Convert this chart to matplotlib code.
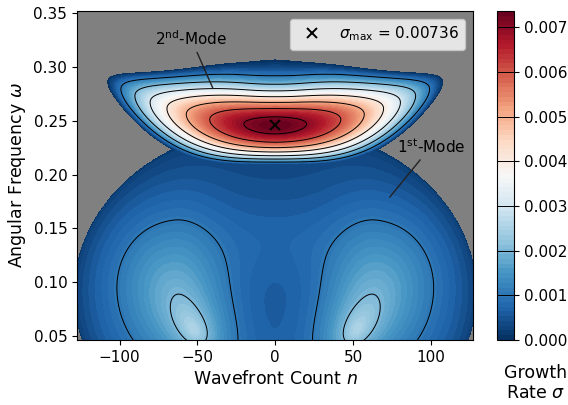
import numpy as np
import matplotlib
matplotlib.use("Agg")
import matplotlib.pyplot as plt

# ---------------- axes / colour scale ----------------
n_limits = [-127.3, 127.0]
omega_limits = [0.0463, 0.352]
x_ticks = [-100, -50, 0, 50, 100]
y_ticks = [0.05, 0.10, 0.15, 0.20, 0.25, 0.30, 0.35]
cbar_ticks = [0.000, 0.001, 0.002, 0.003, 0.004, 0.005, 0.006, 0.007]
line_levels = [0.001, 0.002, 0.003, 0.004, 0.005, 0.006, 0.007]
sigma_max = 0.00736
sigma_max_point = [0.0, 0.246]          # (n, omega) of the maximum

# ---------------- 2nd mode (upper region) ----------------
m2_half_width = 107.5      # n extent of the mode
m2_n_power = 1.8
m2_ridge_rise = 0.040      # ridge omega rise towards the tips
m2_ridge_power = 2.2
m2_top_depth = 0.0605      # distance from ridge to upper edge at n = 0
m2_top_scale = 0.035
m2_top_widen = [0.22, 0.30]    # gain, n-scale (fraction of half width)
m2_bot_depth = 0.037       # distance from ridge to lower edge at n = 0
m2_bot_widen = [0.45, 0.55]

# ---------------- 1st mode (lower region) ----------------
m1_center = [0.0, 0.09]
m1_axes = [129.0, 0.155]
m1_edge_power = 0.3
m1_base = 0.0004
# broad lobes: widths = (out, in, up, down)
broad_n = [-66.0, 66.0]
broad_omega = [0.095, 0.095]
broad_amp = [0.0011, 0.0011]
broad_widths = [52.0, 36.0, 0.08, 0.09]
# sharp lobes near the bottom
sharp_n = [-52.0, 52.0]
sharp_omega = [0.055, 0.055]
sharp_amp = [0.0016, 0.0016]
sharp_widths = [14.0, 18.0, 0.032, 0.03]
sharp_tilt = 250.0
bump_center = [0.0, 0.14]
bump_amp = 0.00025
bump_width = [40.0, 0.04]

# ---------------- annotations ----------------
label_2nd = ["2$^{\\mathrm{nd}}$-Mode", -54.0, 0.326, -40.0, 0.280]
label_1st = ["1$^{\\mathrm{st}}$-Mode", 100.0, 0.226, 73.5, 0.179]

# ---------------- build the field ----------------
n = np.linspace(n_limits[0] - 2, n_limits[1] + 2, 900)
w = np.linspace(omega_limits[0] - 0.003, omega_limits[1] + 0.003, 900)
N, W = np.meshgrid(n, w)

u = np.abs(N - sigma_max_point[0]) / m2_half_width
ridge = sigma_max_point[1] + m2_ridge_rise * u ** m2_ridge_power
d = W - ridge
taper = np.clip(1 - u ** 4, 0, None)
top_f = 1 + m2_top_widen[0] * (1 - np.exp(-(u / m2_top_widen[1]) ** 2)) * taper
bot_f = 1 + m2_bot_widen[0] * (1 - np.exp(-(u / m2_bot_widen[1]) ** 2)) * taper
dt = d / top_f
db = d / bot_f
top = (1 - np.exp(-(dt / m2_top_scale) ** 2)) / (1 - np.exp(-(m2_top_depth / m2_top_scale) ** 2))
bot = (db / m2_bot_depth) ** 2
sig2 = sigma_max * (1 - u ** m2_n_power - np.where(d > 0, top, bot))

r2 = ((N - m1_center[0]) / m1_axes[0]) ** 2 + ((W - m1_center[1]) / m1_axes[1]) ** 2
e = 1 - r2 ** 2
env = np.sign(e) * np.abs(e) ** m1_edge_power
inner = m1_base + bump_amp * np.exp(-((N - bump_center[0]) / bump_width[0]) ** 2
                                    - ((W - bump_center[1]) / bump_width[1]) ** 2)


def side_scaled(dn, dw, widths):
    wn = np.where(dn > 0, widths[0], widths[1])
    ww = np.where(dw > 0, widths[2], widths[3])
    return (dn / wn) ** 2 + (dw / ww) ** 2


for nc, wc, amp in zip(broad_n, broad_omega, broad_amp):
    side = np.sign(nc)
    dn = (N - nc) * side
    dw = W - wc
    inner = inner + amp * np.exp(-side_scaled(dn, dw, broad_widths))

for nc, wc, amp in zip(sharp_n, sharp_omega, sharp_amp):
    side = np.sign(nc)
    dw = W - wc
    dn = (N - (nc + side * sharp_tilt * dw)) * side
    s = np.sqrt(side_scaled(dn, dw, sharp_widths) + 0.02)
    inner = inner + amp * np.exp(-s)

sig1 = env * inner
sigma = np.maximum(sig1, sig2)

# ---------------- plot ----------------
fig = plt.figure(figsize=(5.68, 4.05), dpi=100)
ax = fig.add_axes([0.1356, 0.1605, 0.6972, 0.8123])
ax.set_facecolor("#808080")

levels = np.linspace(0, sigma_max * 1.0001, 70)
cf = ax.contourf(N, W, sigma, levels=levels, cmap="RdBu_r", vmin=0, vmax=sigma_max)
cs = ax.contour(N, W, sigma, levels=line_levels, colors="k", linewidths=0.7)

ax.plot([sigma_max_point[0]], [sigma_max_point[1]], "kx", ms=7, mew=1.4,
        label="$\\sigma_{\\mathrm{max}}$ = %.5f" % sigma_max)
leg = ax.legend(loc="upper right", fontsize=11)

for lab in (label_2nd, label_1st):
    ax.annotate(lab[0], xy=(lab[3], lab[4]), xytext=(lab[1], lab[2]),
                ha="center", va="center", fontsize=11,
                arrowprops=dict(arrowstyle="-", color="#222222", lw=1.0,
                                shrinkA=1, shrinkB=0))

ax.set_xticks(x_ticks)
ax.set_yticks(y_ticks)
ax.set_xlim(n_limits)
ax.set_ylim(omega_limits)
ax.set_yticklabels(["%.2f" % v for v in y_ticks])
ax.tick_params(labelsize=11)
ax.set_xlabel("Wavefront Count $n$", fontsize=12.5)
ax.set_ylabel("Angular Frequency $\\omega$", fontsize=12.5)

cax = fig.add_axes([0.875, 0.1605, 0.030, 0.8123])
cb = fig.colorbar(cf, cax=cax, ticks=cbar_ticks)
cb.ax.set_yticklabels(["%.3f" % v for v in cbar_ticks])
cb.ax.tick_params(labelsize=11)
cb.add_lines(cs)
fig.text(536 / 568, 1 - 383 / 405, "Growth\nRate $\\sigma$", ha="center", va="center",
         fontsize=12.5, linespacing=1.1)

fig.savefig("out.png", dpi=100)
